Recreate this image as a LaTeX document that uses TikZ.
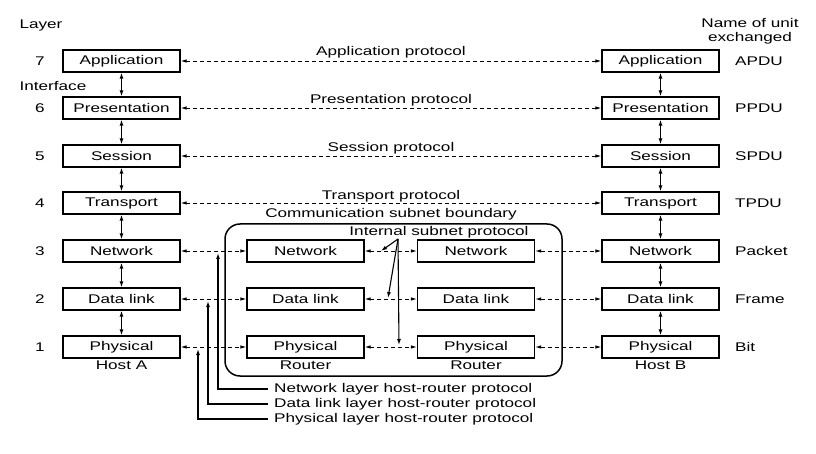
\documentclass[tikz,border=0pt]{standalone}
\usepackage{fontspec}
\setmainfont{Liberation Sans}[FakeStretch=1.36]
\usetikzlibrary{arrows.meta}
\begin{document}
\begin{tikzpicture}[x=1pt,y=-1pt,
  every node/.style={font=\fontsize{12.6}{14}\selectfont},
  layerbox/.style={draw,line width=1.2pt,minimum width=117pt,minimum height=22pt,inner sep=0pt},
  proto/.style={dash pattern=on 4pt off 3pt,line width=0.9pt,{Latex[length=6pt,width=3.5pt]}-{Latex[length=6pt,width=3.5pt]}},
  iface/.style={line width=1.2pt,{Latex[length=6pt,width=4pt]}-{Latex[length=6pt,width=4pt]}},
  pointer/.style={line width=1.1pt,-{Latex[length=6pt,width=4pt]}},
  lbl/.style={inner sep=0pt}
]
\useasboundingbox (0,0) rectangle (816,454);
% subnet boundary
\draw[line width=1.5pt,rounded corners=15pt] (225,224) rectangle (562,376);
% host A boxes
\node[layerbox] (L7) at (121.5,61) {Application};
\node[layerbox] (L6) at (121.5,108) {Presentation};
\node[layerbox] (L5) at (121.5,156) {Session};
\node[layerbox] (L4) at (121.5,203) {Transport};
\node[layerbox] (L3) at (121.5,251) {Network};
\node[layerbox] (L2) at (121.5,299) {Data link};
\node[layerbox] (L1) at (121.5,347) {Physical};
% host B boxes
\node[layerbox] (R7) at (660.5,61) {Application};
\node[layerbox] (R6) at (660.5,108) {Presentation};
\node[layerbox] (R5) at (660.5,156) {Session};
\node[layerbox] (R4) at (660.5,203) {Transport};
\node[layerbox] (R3) at (660.5,251) {Network};
\node[layerbox] (R2) at (660.5,299) {Data link};
\node[layerbox] (R1) at (660.5,347) {Physical};
% routers
\node[layerbox] (A3) at (305.5,251) {Network};
\node[layerbox] (A2) at (305.5,299) {Data link};
\node[layerbox] (A1) at (305.5,347) {Physical};
\node[layerbox] (B3) at (476,251) {Network};
\node[layerbox] (B2) at (476,299) {Data link};
\node[layerbox] (B1) at (476,347) {Physical};
% interfaces
\foreach \a/\b in {7/6,6/5,5/4,4/3,3/2,2/1}{
  \draw[iface] (L\a.south) -- (L\b.north);
  \draw[iface] (R\a.south) -- (R\b.north);
}
% peer protocols
\foreach \k in {7,6,5,4}{
  \draw[proto] (L\k.east) -- (R\k.west);
}
\foreach \k in {3,2,1}{
  \draw[proto] (L\k.east) -- (A\k.west);
  \draw[proto] (A\k.east) -- (B\k.west);
  \draw[proto] (B\k.east) -- (R\k.west);
}
% protocol labels
\node[lbl] (p7) at (391,52) {Application protocol};
\node[lbl] (p6) at (391,100) {Presentation protocol};
\node[lbl] (p5) at (391,148) {Session protocol};
\node[lbl] (p4) at (391,196) {Transport protocol};
\node[lbl] (csb) at (391,214) {Communication subnet boundary};
\node[lbl] (isp) at (439,232.5) {Internal subnet protocol};
% internal subnet arrows
\coordinate (isporig) at (398,239);
\coordinate (isp3) at (381,251);
\coordinate (isp2) at (388,298);
\coordinate (isp1) at (399,345);
\draw[pointer] (isporig) -- (isp3);
\draw[pointer] (isporig) -- (isp2);
\draw[pointer] (isporig) -- (isp1);
% host-router protocol pointers
\node[lbl,anchor=west] (hr3) at (274,389) {Network layer host-router protocol};
\node[lbl,anchor=west] (hr2) at (274,404) {Data link layer host-router protocol};
\node[lbl,anchor=west] (hr1) at (274,419) {Physical layer host-router protocol};
\coordinate (t3) at (218,253);
\coordinate (t2) at (208,301);
\coordinate (t1) at (198,349);
\draw[pointer] (hr3.west) ++(-6,0) -| (t3);
\draw[pointer] (hr2.west) ++(-6,0) -| (t2);
\draw[pointer] (hr1.west) ++(-6,0) -| (t1);
% side labels
\node[lbl] (layer) at (41,25) {Layer};
\node[lbl] (iface) at (53,86) {Interface};
\foreach \n/\y in {7/61,6/108,5/156,4/203,3/251,2/299,1/347}{
  \node[lbl] (n\n) at (40,\y) {\n};
}
\node[lbl,align=center] (unit) at (750,31) {Name of unit\\exchanged};
\foreach \t/\y in {APDU/61,PPDU/108,SPDU/156,TPDU/203,Packet/251,Frame/299,Bit/347}{
  \node[lbl,anchor=west] (u\t) at (735,\y) {\t};
}
\node[lbl] (hostA) at (121.5,365) {Host A};
\node[lbl] (hostB) at (660.5,365) {Host B};
\node[lbl] (rA) at (305.5,365) {Router};
\node[lbl] (rB) at (476,365) {Router};
\end{tikzpicture}
\end{document}
